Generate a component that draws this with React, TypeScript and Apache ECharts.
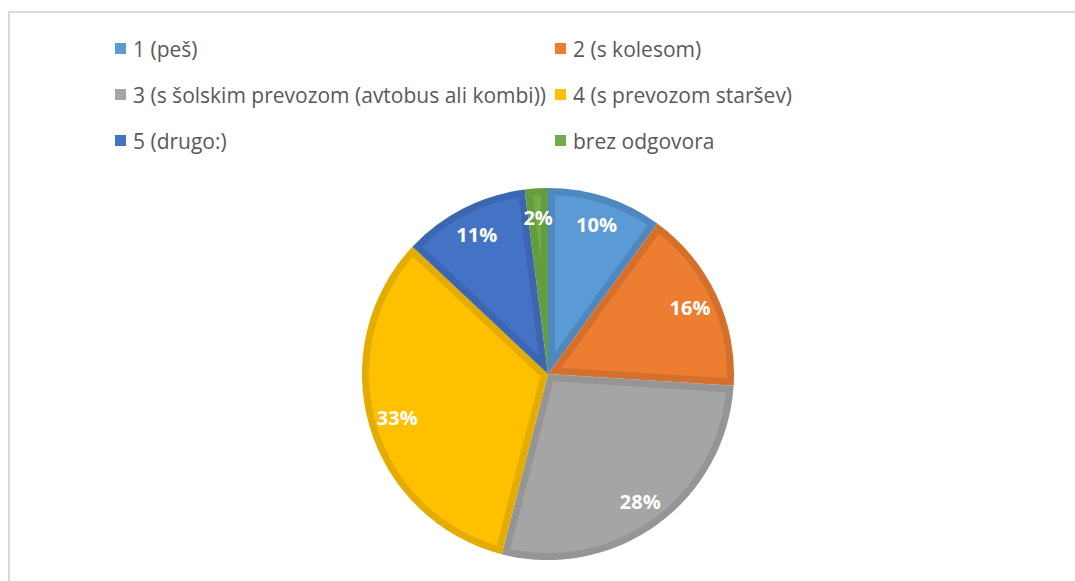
import React, { useEffect, useRef } from "react";
import * as echarts from "echarts";

const categories = [
  "1 (peš)",
  "2 (s kolesom)",
  "3 (s šolskim prevozom (avtobus ali kombi))",
  "4 (s prevozom staršev)",
  "5 (drugo:)",
  "brez odgovora",
];
const values = [10, 16, 28, 33, 11, 2];
const fillColors = ["#5B9BD5", "#ED7D31", "#A5A5A5", "#FFC000", "#4472C4", "#70AD47"];
const edgeColors = ["#4E88BF", "#D4702C", "#959595", "#E5AC00", "#3C66B0", "#649C3F"];
const leftLegend = [categories[0], categories[2], categories[4]];
const rightLegend = [categories[1], categories[3], categories[5]];

const CX = 548;
const CY = 374;
const R = 186;
const INSET = 7;

export default function App() {
  const ref = useRef<HTMLDivElement>(null);

  useEffect(() => {
    if (!ref.current) return;
    const chart = echarts.init(ref.current, null, { renderer: "svg" });
    const total = values.reduce((a, b) => a + b, 0);
    const starts: number[] = [];
    let acc = 0;
    values.forEach((v) => {
      starts.push(acc);
      acc += (v / total) * Math.PI * 2;
    });

    const pt = (a: number, r: number) => [CX + r * Math.sin(a), CY - r * Math.cos(a)];

    const legendItem = (name: string) => ({
      name,
      itemStyle: { color: fillColors[categories.indexOf(name)] },
    });
    const legendBase = {
      orient: "vertical" as const,
      top: 38,
      padding: 0,
      icon: "rect",
      itemWidth: 11,
      itemHeight: 11,
      itemGap: 25,
      selectedMode: false,
      textStyle: {
        color: "#595959",
        fontSize: 21,
        lineHeight: 21,
        fontFamily: "Open Sans",
        padding: [0, 0, 0, 2],
      },
    };

    chart.setOption({
      animation: false,
      backgroundColor: "#ffffff",
      graphic: [
        {
          type: "rect",
          shape: { x: 9, y: 12, width: 1100, height: 620 },
          style: { fill: "none", stroke: "#d9d9d9", lineWidth: 2 },
          silent: true,
        },
      ],
      legend: [
        { ...legendBase, left: 115, data: leftLegend.map(legendItem) },
        { ...legendBase, left: 555, data: rightLegend.map(legendItem) },
      ],
      series: [
        {
          type: "pie",
          name: "edge",
          z: 2,
          center: [CX, CY],
          radius: R,
          startAngle: 90,
          clockwise: true,
          silent: true,
          label: { show: false },
          labelLine: { show: false },
          data: categories.map((n, i) => ({
            name: n,
            value: values[i],
            itemStyle: { color: edgeColors[i] },
          })),
        },
        {
          type: "custom",
          z: 3,
          coordinateSystem: "none",
          silent: true,
          data: values.map((v, i) => [i, v]),
          renderItem: (params: any, api: any) => {
            const i = params.dataIndex;
            const a0 = starts[i];
            const theta = (api.value(1) / total) * Math.PI * 2;
            const a1 = a0 + theta;
            const r = R - INSET;
            const t = Math.sqrt(r * r - INSET * INSET);
            const delta = Math.atan2(INSET, t);
            const apexDist = INSET / Math.sin(theta / 2);
            if (theta / 2 <= delta || apexDist >= t) return { type: "group", children: [] };
            const points: number[][] = [pt(a0 + theta / 2, apexDist)];
            const steps = 60;
            for (let k = 0; k <= steps; k++) {
              const a = a0 + delta + ((a1 - delta - (a0 + delta)) * k) / steps;
              points.push(pt(a, r));
            }
            return {
              type: "polygon",
              z2: 10,
              shape: { points },
              style: { fill: fillColors[i] },
            };
          },
        },
        {
          type: "pie",
          name: "labels",
          z: 4,
          center: [CX, CY],
          radius: [122, R],
          startAngle: 90,
          clockwise: true,
          silent: true,
          itemStyle: { color: "rgba(0,0,0,0)" },
          label: {
            show: true,
            position: "inside",
            formatter: (p: any) => `${Math.round(p.percent)}%`,
            color: "#ffffff",
            fontSize: 20,
            fontWeight: "bold",
            fontFamily: "Open Sans",
          },
          labelLine: { show: false },
          data: categories.map((n, i) => ({ name: n, value: values[i] })),
        },
      ],
    });
    return () => chart.dispose();
  }, []);

  return (
    <div style={{ position: "fixed", left: 0, top: 0, width: 1075, height: 581 }}>
      <div ref={ref} style={{ width: 1075, height: 581 }} />
    </div>
  );
}
